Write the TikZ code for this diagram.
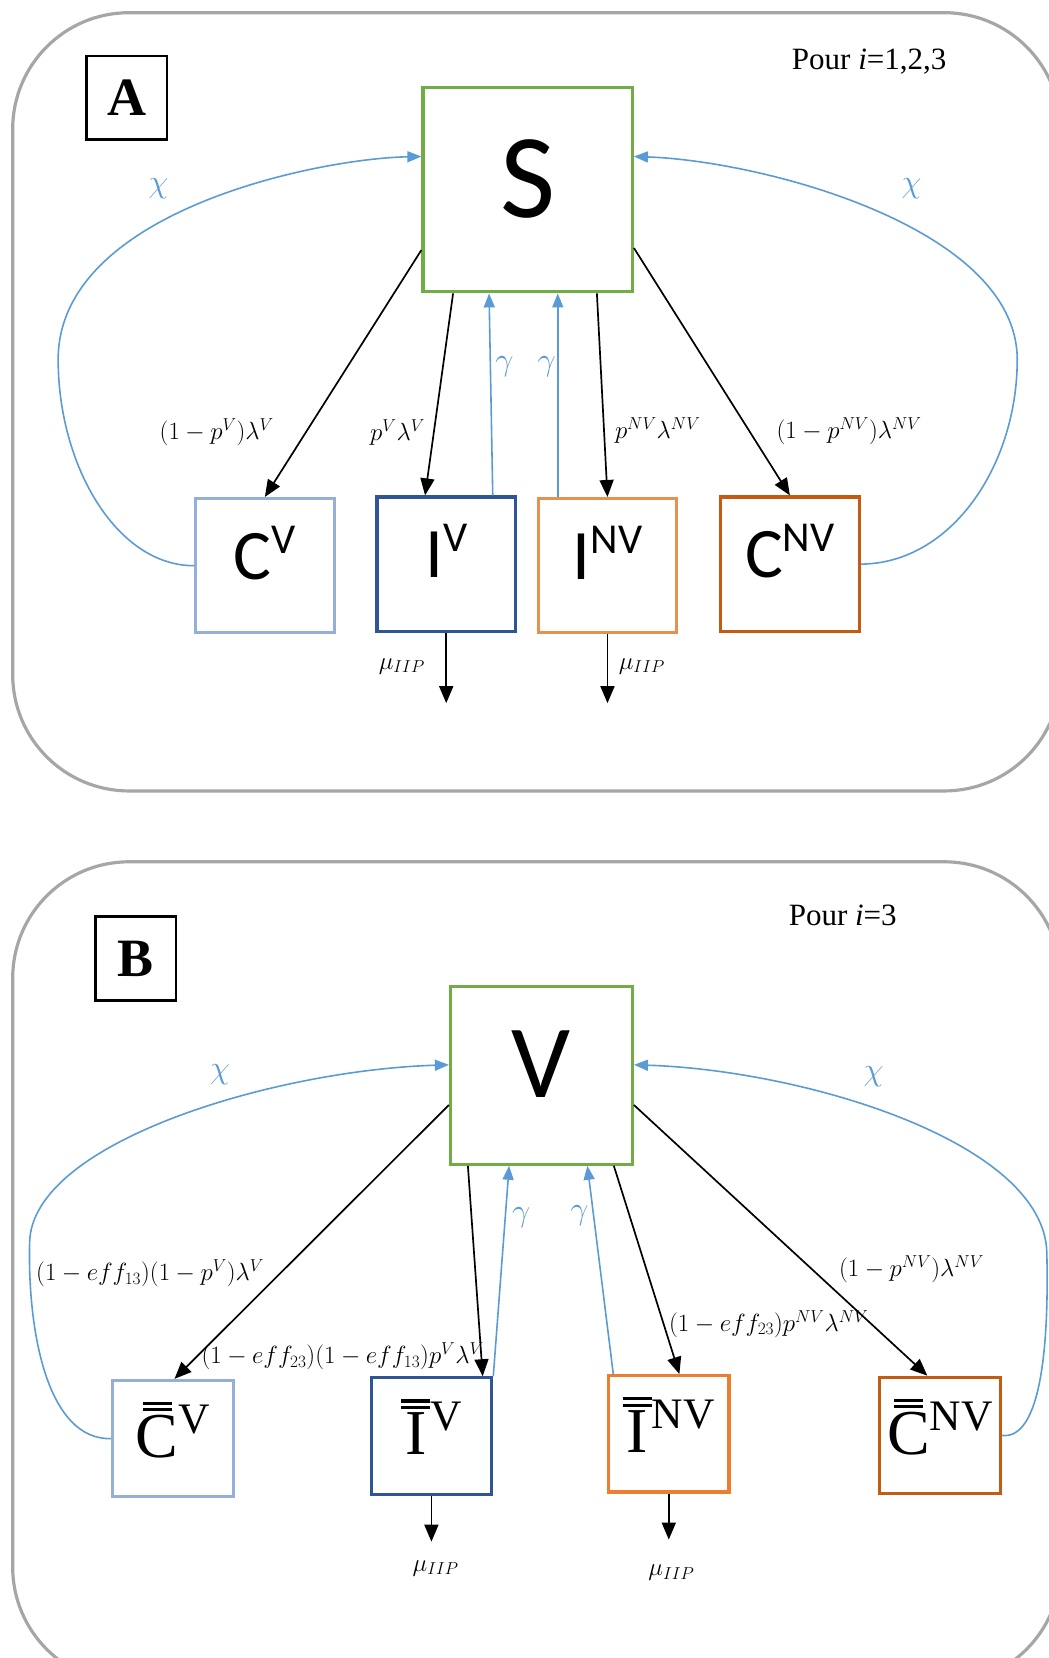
\documentclass[tikz,border=0pt]{standalone}
\usepackage{amsmath}
\usepackage{graphicx}
\usepackage{fontspec}
\newfontfamily\calibri{Carlito}
\newfontfamily\cambria{Liberation Serif}
\usepackage{tikz}
\usetikzlibrary{positioning,arrows.meta,calc}
\definecolor{compgreen}{HTML}{70AD47}
\definecolor{lightblue}{HTML}{95AEDA}
\definecolor{darkblue}{HTML}{2F5597}
\definecolor{midorange}{HTML}{E6914F}
\definecolor{lightorange}{HTML}{ED7D31}
\definecolor{darkorange}{HTML}{C55A11}
\definecolor{flowblue}{HTML}{5B9BD5}
\definecolor{framegray}{HTML}{A6A6A6}
\newlength{\px}\setlength{\px}{1.0575pt}
\newcommand{\hiA}[1]{\raisebox{0.37em}{\scalebox{0.6}{#1}}}
\newcommand{\hiB}[1]{\raisebox{0.38em}{\scalebox{0.68}{#1}}}
\newcommand{\gr}[1]{\scalebox{1.3}{$#1$}}
\newcommand{\dblbar}[1]{\leavevmode\vbox{\offinterlineskip\halign{\hfil##\hfil\cr
  \rule{0.45em}{0.05em}\cr\noalign{\kern0.05em}\rule{0.45em}{0.05em}\cr\noalign{\kern0.06em}#1\cr}}}

\begin{document}
\begin{tikzpicture}[x=1.0575pt,y={(0,-1.0575pt)},
  panel/.style={draw=framegray,line width=3\px,rounded corners=110\px},
  panellabel/.style={draw,line width=2.5\px,minimum width=76\px,minimum height=79\px,inner sep=0pt,font=\cambria\bfseries\fontsize{54}{54}\selectfont},
  hub/.style={draw=compgreen,line width=3\px,inner sep=0pt,font=\calibri\fontsize{120}{120}\selectfont},
  comp/.style={draw,line width=3\px,minimum width=131\px,minimum height=127\px,inner sep=0pt,text depth=25\px,font=\calibri\fontsize{71}{71}\selectfont},
  compb/.style={draw,line width=3\px,minimum width=114\px,minimum height=110\px,inner sep=0pt,text depth=17\px,font=\cambria\fontsize{64}{64}\selectfont},
  flow/.style={-{Triangle[length=17pt,width=14pt]},line width=1.6\px},
  recov/.style={-{Triangle[length=14pt,width=11pt]},line width=1.5\px,flowblue},
  rate/.style={inner sep=0pt,font=\fontsize{25}{27}\selectfont},
  brate/.style={rate,text=flowblue},
  pour/.style={inner sep=0pt,font=\cambria\fontsize{31}{33}\selectfont}]
\useasboundingbox (0,0) rectangle (992,1568);
\fill[white] (0,0) rectangle (992,1568);

% panel A
\draw[panel] (12,12) rectangle (1003,748);
\node[panellabel] (pa) at (120,92.5) {A};
\node[pour] (poura) at (822,58) {Pour \textit{i}=1,2,3};
\node[hub,minimum width=198\px,minimum height=193\px,text depth=22\px] (S) at (499,179.5) {S};
\node[comp,draw=lightblue] (CV) at (250.5,535) {C\hiA{V}};
\node[comp,draw=darkblue] (IV) at (422,533.5) {I\hiA{V}};
\node[comp,draw=midorange] (INV) at (574.5,535) {I\hiA{NV}};
\node[comp,draw=darkorange] (CNV) at (747,533.5) {C\hiA{NV}};
\coordinate (outIV) at (422,665);
\coordinate (outINV) at (574.5,665);

\draw[flow] ($(S.south west)+(0,-41)$) -- (CV.north);
\draw[flow] ($(S.south west)+(30,0)$) -- ($(IV.north)+(-20,0)$);
\draw[recov] ($(IV.north east)+(-23,0)$) -- ($(S.south west)+(64,0)$);
\draw[recov] ($(INV.north west)+(20,0)$) -- ($(S.south west)+(129,0)$);
\draw[flow] ($(S.south west)+(166,0)$) -- (INV.north);
\draw[flow] ($(S.south east)+(0,-43)$) -- (CNV.north);
\draw[flow] (IV.south) -- (outIV);
\draw[flow] (INV.south) -- (outINV);
\draw[recov] (CV.west) .. controls (110,535) and (55,440) .. (55,340)
  .. controls (55,200) and (300,150) .. ($(S.west)+(0,-31.5)$);
\draw[recov] (CNV.east) .. controls (900,533) and (962,440) .. (962,340)
  .. controls (962,215) and (720,152) .. ($(S.east)+(0,-31.5)$);

\node[rate] (lcv) at (205,409) {$(1-p^{V})\lambda^{V}$};
\node[rate] (liv) at (376,409) {$p^{V}\lambda^{V}$};
\node[brate] (giv) at (477,347) {\gr{\gamma}};
\node[brate] (ginv) at (517,347) {\gr{\gamma}};
\node[rate] (linv) at (622,407) {$p^{NV}\lambda^{NV}$};
\node[rate] (lcnv) at (803,408) {$(1-p^{NV})\lambda^{NV}$};
\node[brate] (xl) at (150,178) {\gr{\chi}};
\node[brate] (xr) at (862,178) {\gr{\chi}};
\node[rate] (miv) at (380,630) {$\mu_{IIP}$};
\node[rate] (minv) at (607,630) {$\mu_{IIP}$};

% panel B
\draw[panel] (12,815) rectangle (1003,1592);
\node[panellabel] (pb) at (128.5,906.5) {B};
\node[pour] (pourb) at (797,866) {Pour \textit{i}=3};
\node[hub,minimum width=172\px,minimum height=168\px,text depth=21\px,font=\calibri\fontsize{104}{104}\selectfont] (V) at (512,1017) {V};
\node[compb,draw=lightblue] (CVb) at (163.5,1360.5) {\dblbar{C}\hiB{V}};
\node[compb,draw=darkblue] (IVb) at (408,1358) {\dblbar{I}\hiB{V}};
\node[compb,draw=lightorange] (INVb) at (632.5,1356) {\dblbar{I}\hiB{NV}};
\node[compb,draw=darkorange] (CNVb) at (889,1357.5) {\dblbar{C}\hiB{NV}};
\coordinate (outIVb) at (408,1458);
\coordinate (outINVb) at (632.5,1456);

\draw[flow] ($(V.west)+(0,28)$) -- ($(CVb.north)+(1.5,0)$);
\draw[flow] ($(V.south west)+(18,0)$) -- ($(IVb.north east)+(-10,0)$);
\draw[recov] (IVb.north east) -- ($(V.south west)+(57,0)$);
\draw[recov] ($(INVb.north west)+(6,0)$) -- ($(V.south west)+(131,0)$);
\draw[flow] ($(V.south west)+(156,0)$) -- ($(INVb.north)+(10,0)$);
\draw[flow] ($(V.east)+(0,28)$) -- ($(CNVb.north)+(-12,0)$);
\draw[flow] (IVb.south) -- (outIVb);
\draw[flow] (INVb.south) -- (outINVb);
\draw[recov] (CVb.west) .. controls (45,1362) and (26,1260) .. (28,1175)
  .. controls (30,1080) and (260,1012) .. ($(V.west)+(0,-10)$);
\draw[recov] (CNVb.east) .. controls (985,1362) and (992,1270) .. (990,1185)
  .. controls (988,1080) and (760,1012) .. ($(V.east)+(0,-10)$);

\node[rate] (lcvb) at (142,1204) {$(1-eff_{13})(1-p^{V})\lambda^{V}$};
\node[rate] (livb) at (324,1283) {$(1-eff_{23})(1-eff_{13})p^{V}\lambda^{V}$};
\node[brate] (givb) at (493,1152) {\gr{\gamma}};
\node[brate] (ginvb) at (548,1150) {\gr{\gamma}};
\node[rate] (linvb) at (727,1252) {$(1-eff_{23})p^{NV}\lambda^{NV}$};
\node[rate] (lcnvb) at (862,1200) {$(1-p^{NV})\lambda^{NV}$};
\node[brate] (xlb) at (208,1016) {\gr{\chi}};
\node[brate] (xrb) at (826,1018) {\gr{\chi}};
\node[rate] (mivb) at (412,1483) {$\mu_{IIP}$};
\node[rate] (minvb) at (635,1487) {$\mu_{IIP}$};
\end{tikzpicture}
\end{document}
